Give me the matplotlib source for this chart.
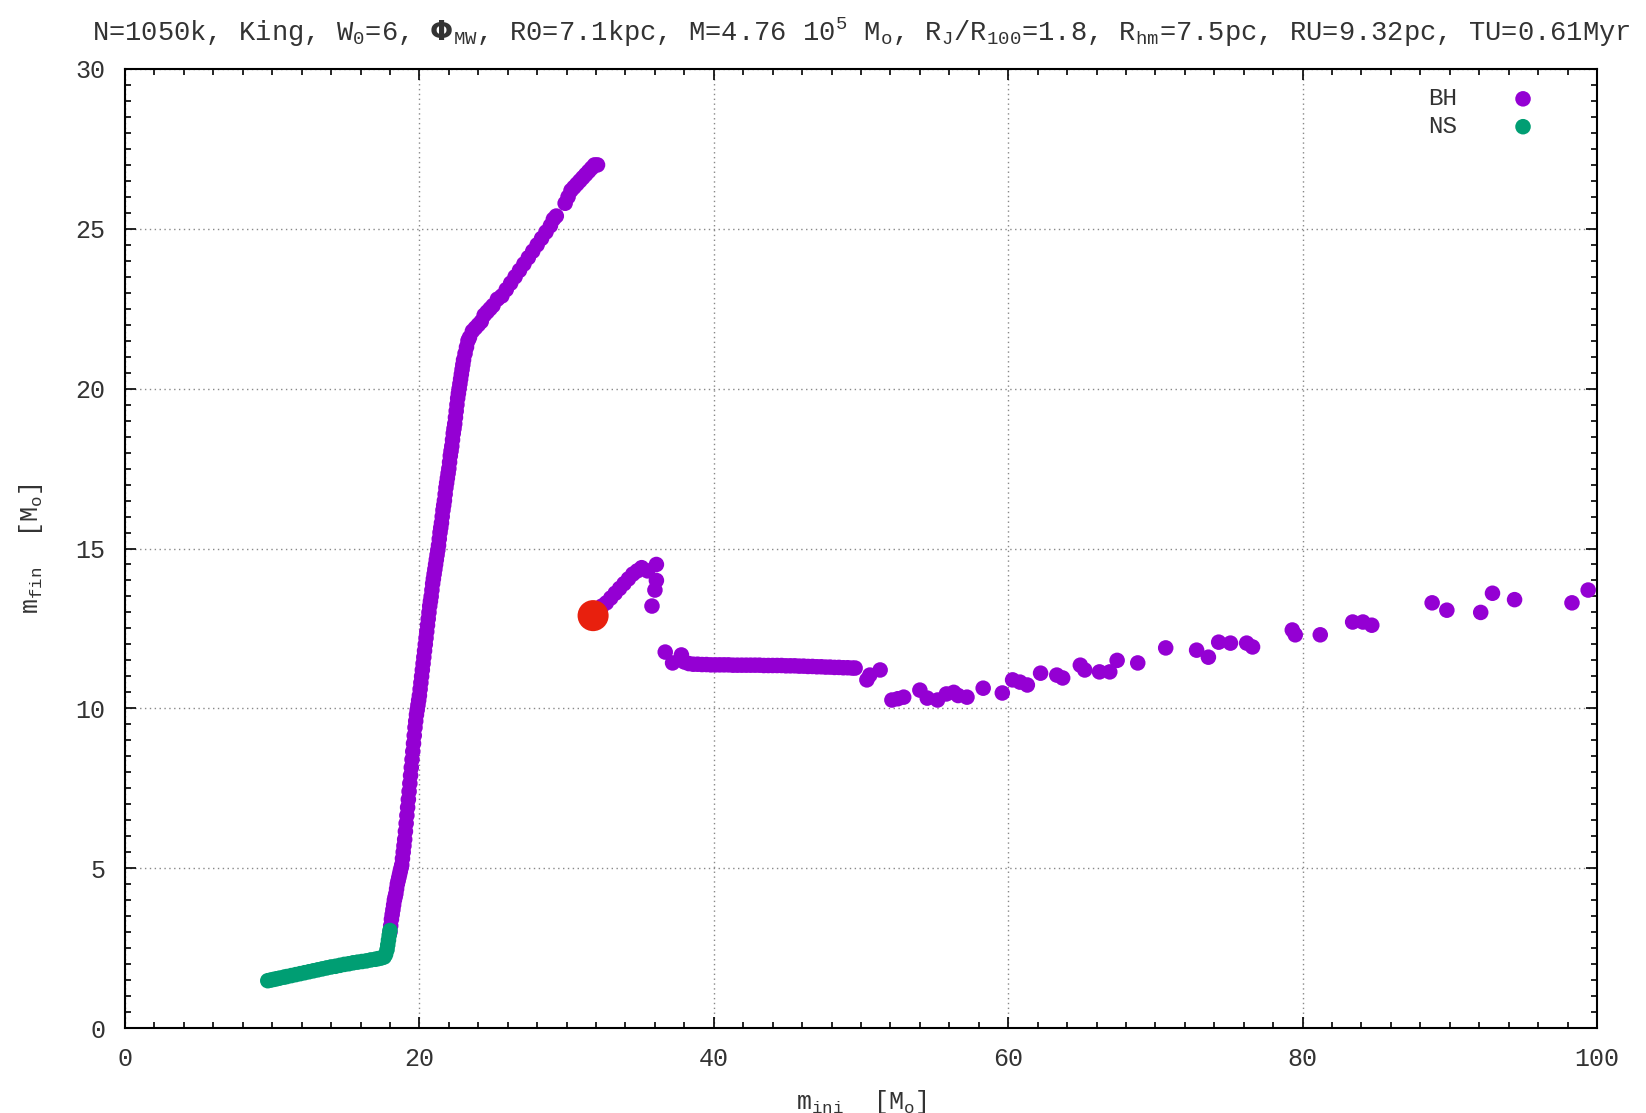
import matplotlib
matplotlib.use("Agg")
import matplotlib.pyplot as plt

# --- data ---
ns_m_ini = [9.7, 9.9, 10.1, 10.3, 10.5, 10.8, 11.0, 11.3, 11.6, 11.9, 12.2, 12.5,
            12.8, 13.1, 13.4, 13.7, 14.0, 14.3, 14.6, 14.9, 15.2, 15.5, 15.8, 16.1,
            16.4, 16.7, 17.0, 17.2, 17.4, 17.6, 17.7, 17.8, 17.85, 17.9, 17.95, 18.0]
ns_m_fin = [1.48, 1.50, 1.52, 1.54, 1.56, 1.59, 1.61, 1.64, 1.67, 1.70, 1.73, 1.76,
            1.79, 1.82, 1.85, 1.88, 1.91, 1.93, 1.96, 1.99, 2.01, 2.04, 2.06, 2.08,
            2.10, 2.13, 2.15, 2.17, 2.19, 2.22, 2.30, 2.45, 2.60, 2.75, 2.90, 3.05]

# BH: steep rise just above the NS/BH boundary
bh_rise_ini = [18.00, 18.05, 18.10, 18.15, 18.20, 18.25, 18.30, 18.35, 18.40, 18.45,
               18.50, 18.55, 18.60, 18.65, 18.70, 18.75, 18.80, 18.85, 18.90, 18.95,
               19.00, 19.05, 19.10, 19.15, 19.20, 19.25, 19.30, 19.35, 19.40, 19.45,
               19.50, 19.55, 19.60, 19.65, 19.70, 19.75, 19.80, 19.85, 19.90, 19.95,
               20.00, 20.05, 20.10, 20.15, 20.20, 20.25, 20.30, 20.35, 20.40, 20.45,
               20.50, 20.55, 20.60, 20.65, 20.70, 20.75, 20.80, 20.85, 20.90, 20.95,
               21.00, 21.05, 21.10, 21.15, 21.20, 21.25, 21.30, 21.35, 21.40, 21.45,
               21.50, 21.55, 21.60, 21.65, 21.70, 21.75, 21.80, 21.85, 21.90, 21.95,
               22.00, 22.05, 22.10, 22.15, 22.20, 22.25, 22.30, 22.35, 22.40, 22.45,
               22.50, 22.55, 22.60, 22.65, 22.70, 22.75, 22.80, 22.85, 22.90, 22.95,
               23.00, 23.10, 23.20, 23.30, 23.40]
bh_rise_fin = [3.0, 3.2, 3.4, 3.55, 3.7, 3.85, 4.0, 4.1, 4.2, 4.35,
               4.5, 4.6, 4.7, 4.8, 4.9, 5.0, 5.1, 5.3, 5.5, 5.7,
               5.9, 6.15, 6.4, 6.65, 6.9, 7.15, 7.4, 7.65, 7.9, 8.15,
               8.4, 8.65, 8.9, 9.15, 9.4, 9.6, 9.8, 9.95, 10.1, 10.25,
               10.4, 10.6, 10.8, 11.0, 11.2, 11.4, 11.6, 11.8, 12.0, 12.2,
               12.4, 12.6, 12.8, 13.0, 13.2, 13.35, 13.5, 13.7, 13.9, 14.05,
               14.2, 14.35, 14.5, 14.65, 14.8, 14.95, 15.1, 15.3, 15.5, 15.65,
               15.8, 16.0, 16.2, 16.35, 16.5, 16.7, 16.9, 17.05, 17.2, 17.35,
               17.5, 17.7, 17.9, 18.05, 18.2, 18.4, 18.6, 18.75, 18.9, 19.1,
               19.3, 19.5, 19.7, 19.85, 20.0, 20.15, 20.3, 20.45, 20.6, 20.75,
               20.9, 21.1, 21.3, 21.5, 21.6]

# BH: upper branch up to ~32 Msun
bh_upper_ini = [23.6, 23.8, 24.0, 24.2, 24.4, 24.6, 24.8, 25.0, 25.3, 25.6, 25.9, 26.2,
                26.5, 26.8, 27.1, 27.4, 27.7, 28.0, 28.3, 28.6, 28.9, 29.1, 29.3, 29.9,
                30.1, 30.3, 30.5, 30.7, 30.9, 31.1, 31.3, 31.5, 31.7, 31.9, 32.1]
bh_upper_fin = [21.8, 21.9, 22.0, 22.1, 22.3, 22.4, 22.5, 22.6, 22.8, 22.9, 23.1, 23.3,
                23.5, 23.7, 23.9, 24.1, 24.3, 24.5, 24.7, 24.9, 25.1, 25.3, 25.4, 25.8,
                26.0, 26.2, 26.3, 26.4, 26.5, 26.6, 26.7, 26.8, 26.9, 27.0, 27.0]

# BH: short branch after the drop
bh_mid_ini = [32.4, 32.7, 33.0, 33.3, 33.6, 33.9, 34.2, 34.5, 34.8, 35.1, 35.5, 36.1,
              36.1, 36.0, 35.8]
bh_mid_fin = [13.2, 13.3, 13.45, 13.6, 13.75, 13.9, 14.05, 14.2, 14.3, 14.4, 14.3, 14.5,
              14.0, 13.7, 13.2]

# BH: plateau
bh_flat_ini = [36.7, 37.2, 37.8, 38.0, 38.3, 38.6, 38.9, 39.2, 39.5, 39.8, 40.1, 40.4,
               40.7, 41.0, 41.3, 41.6, 41.9, 42.2, 42.5, 42.8, 43.1, 43.4, 43.7, 44.0,
               44.3, 44.6, 44.9, 45.2, 45.5, 45.8, 46.1, 46.4, 46.7, 47.0, 47.3, 47.6,
               47.9, 48.2, 48.5, 48.8, 49.1, 49.4, 49.6]
bh_flat_fin = [11.76, 11.42, 11.67, 11.45, 11.40, 11.38, 11.38, 11.37, 11.37, 11.36, 11.36, 11.36,
               11.36, 11.36, 11.35, 11.35, 11.35, 11.35, 11.35, 11.35, 11.35, 11.34, 11.34, 11.34,
               11.34, 11.34, 11.33, 11.33, 11.33, 11.32, 11.32, 11.31, 11.31, 11.30, 11.30, 11.29,
               11.29, 11.28, 11.28, 11.27, 11.27, 11.26, 11.26]

# BH: scattered high-mass tail
bh_tail_ini = [50.4, 50.6, 51.3, 52.1, 52.5, 52.9, 54.0, 54.5, 55.2, 55.8, 56.3, 56.6,
               57.2, 58.3, 59.6, 60.3, 60.8, 61.3, 62.2, 63.3, 63.7, 64.9, 65.2, 66.2,
               66.9, 67.4, 68.8, 70.7, 72.8, 73.6, 74.3, 75.1, 76.2, 76.6, 79.3, 79.5,
               81.2, 83.4, 84.1, 84.7, 88.8, 89.8, 92.1, 92.9, 94.4, 98.3, 99.4]
bh_tail_fin = [10.89, 11.04, 11.2, 10.26, 10.3, 10.35, 10.57, 10.32, 10.26, 10.45, 10.5, 10.4,
               10.35, 10.63, 10.48, 10.89, 10.82, 10.73, 11.1, 11.04, 10.95, 11.35, 11.2, 11.14,
               11.14, 11.5, 11.42, 11.89, 11.82, 11.6, 12.07, 12.04, 12.04, 11.92, 12.45, 12.3,
               12.3, 12.7, 12.7, 12.6, 13.3, 13.07, 13.0, 13.6, 13.4, 13.3, 13.7]

bh_m_ini = bh_rise_ini + bh_upper_ini + bh_mid_ini + bh_flat_ini + bh_tail_ini
bh_m_fin = bh_rise_fin + bh_upper_fin + bh_mid_fin + bh_flat_fin + bh_tail_fin

# the single highlighted object
red_m_ini = [31.8]
red_m_fin = [12.9]

title = (r"N=1050k, King, W$_0$=6, $\mathbf{\Phi}_{MW}$, R0=7.1kpc, M=4.76 10$^5$ M$_o$, "
         r"R$_J$/R$_{100}$=1.8, R$_{hm}$=7.5pc, RU=9.32pc, TU=0.61Myr")

plt.rcParams['font.family'] = ['Liberation Mono', 'DejaVu Sans Mono']
plt.rcParams['mathtext.default'] = 'regular'
txt = '#333333'

fig = plt.figure(figsize=(16.46, 11.13), dpi=100)
ax = fig.add_axes([125 / 1646, 1 - 1028 / 1113, 1472 / 1646, 959 / 1113])

ax.scatter(bh_m_ini, bh_m_fin, s=125, color='#9400d3', edgecolor='none', label='BH', zorder=3)
ax.scatter(ns_m_ini, ns_m_fin, s=125, color='#009e73', edgecolor='none', label='NS', zorder=4)
ax.scatter(red_m_ini, red_m_fin, s=500, color='#e8200e', edgecolor='none', zorder=5)

ax.set_xlim(0, 100)
ax.set_ylim(0, 30)
ax.set_xticks(range(0, 101, 20))
ax.set_yticks(range(0, 31, 5))
ax.set_xticks(range(0, 101, 2), minor=True)
ax.set_yticks([i * 0.5 for i in range(61)], minor=True)
ax.tick_params(which='both', direction='in', top=True, right=True, width=1.2,
               labelsize=18, labelcolor=txt)
ax.tick_params(which='major', length=8, pad=14)
ax.tick_params(which='minor', length=4)
ax.grid(True, which='major', color='#888888', linestyle=(0, (1, 2.5)), linewidth=1.0)
for sp in ax.spines.values():
    sp.set_linewidth(1.5)

ax.set_title(title, fontsize=19.5, color=txt, pad=20)
ax.set_xlabel(r"m$_{ini}$  [M$_o$]", fontsize=18, color=txt, labelpad=12)
ax.set_ylabel(r"m$_{fin}$  [M$_o$]", fontsize=18, color=txt, labelpad=22)

ax.legend(loc='upper right', bbox_to_anchor=(0.958, 0.981), markerfirst=False,
          frameon=False, fontsize=17.5, handlelength=1.0, handletextpad=2.2,
          labelspacing=0.2, borderpad=0, borderaxespad=0, labelcolor=txt,
          scatterpoints=1)

fig.savefig('out.png', dpi=100)
